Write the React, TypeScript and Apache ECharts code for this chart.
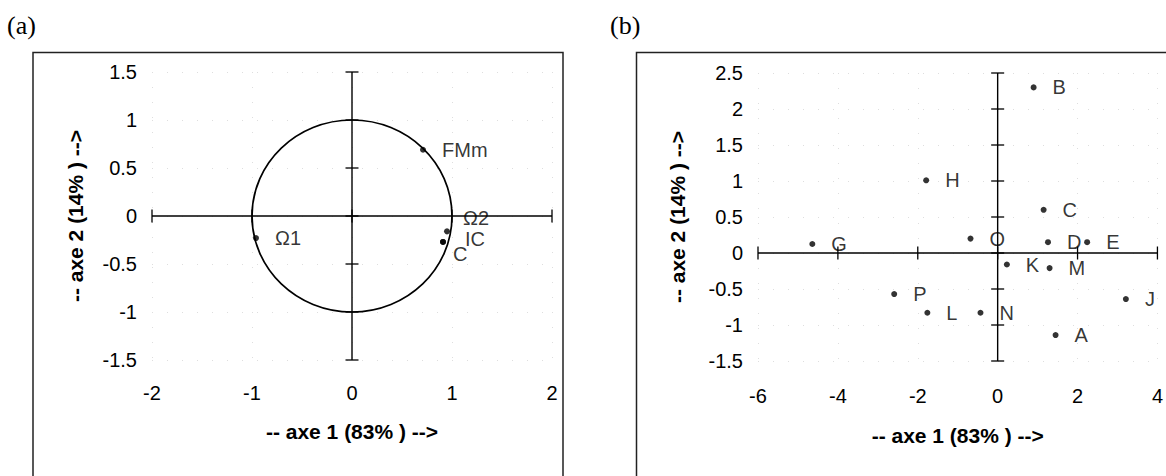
import React, { useEffect, useRef } from 'react';
import * as echarts from 'echarts';

// ---- Panel (a): correlation circle ----
const aTickX = [-2, -1, 0, 1, 2];
const aTickY = [-1.5, -1, -0.5, 0, 0.5, 1, 1.5];
const aNames = ['FMm', 'Ω1', 'Ω2', 'IC', 'C'];
const aX = [0.71, -0.96, 0.95, 0.91, 0.91];
const aY = [0.69, -0.23, -0.16, -0.27, -0.27];
const circleRadius = [1];

// ---- Panel (b): individuals ----
const bTickX = [-6, -4, -2, 0, 2, 4];
const bTickY = [-1.5, -1, -0.5, 0, 0.5, 1, 1.5, 2, 2.5];
const bNames = ['B', 'H', 'C', 'G', 'O', 'D', 'E', 'K', 'M', 'P', 'L', 'N', 'A', 'J'];
const bX = [0.9, -1.79, 1.15, -4.64, -0.68, 1.26, 2.24, 0.23, 1.3, -2.59, -1.76, -0.43, 1.45, 3.21];
const bY = [2.3, 1.01, 0.6, 0.125, 0.2, 0.15, 0.15, -0.16, -0.21, -0.57, -0.83, -0.83, -1.14, -0.64];

const xTitle = '-- axe 1 (83% ) -->';
const yTitle = '-- axe 2 (14% ) -->';

const FONT = '"Liberation Sans", Arial, sans-serif';
const SERIF = '"Liberation Serif", "Times New Roman", serif';
const INK = '#000';

const aLabelStyle: Record<string, any> = {
  'Ω2': { distance: 13, offset: [0, -13], lineHeight: 15 },
  'IC': { distance: 19, offset: [0, -3], lineHeight: 15 },
  'C': { distance: 7, offset: [0, 12], lineHeight: 15 },
};

function mkXAxis(grid: number, ticks: number[], name: string, nameGap: number, margin: number) {
  return {
    type: 'value', gridIndex: grid, min: ticks[0], max: ticks[ticks.length - 1],
    interval: ticks[1] - ticks[0], position: 'bottom',
    axisLine: { show: false, onZero: false }, axisTick: { show: false },
    axisLabel: { fontSize: 20, color: INK, margin, fontFamily: FONT, showMinLabel: true, showMaxLabel: true },
    splitLine: { show: true, lineStyle: { color: '#dedede', type: [1, 14], width: 1 } },
    name, nameLocation: 'middle', nameGap,
    nameTextStyle: { fontSize: 21, fontWeight: 'bold', color: INK, fontFamily: FONT },
  };
}
function mkYAxis(grid: number, ticks: number[], name: string, nameGap: number) {
  return {
    type: 'value', gridIndex: grid, min: ticks[0], max: ticks[ticks.length - 1],
    interval: ticks[1] - ticks[0], position: 'left',
    axisLine: { show: false, onZero: false }, axisTick: { show: false },
    axisLabel: { fontSize: 20, color: INK, margin: 15, fontFamily: FONT, showMinLabel: true, showMaxLabel: true },
    splitLine: { show: true, lineStyle: { color: '#dedede', type: [1, 14], width: 1 } },
    name, nameLocation: 'middle', nameGap,
    nameTextStyle: { fontSize: 21, fontWeight: 'bold', color: INK, fontFamily: FONT },
  };
}

function axisSeries(grid: number, tx: number[], ty: number[]) {
  const lineStyle = { color: '#000', width: 1.4 };
  const tick = (vertical: boolean) => (params: any, api: any) => {
    const p = api.coord([api.value(0), api.value(1)]);
    const h = 6.5;
    return {
      type: 'line',
      shape: vertical
        ? { x1: p[0], y1: p[1] - h, x2: p[0], y2: p[1] + h }
        : { x1: p[0] - h, y1: p[1], x2: p[0] + h, y2: p[1] },
      style: { stroke: '#000', lineWidth: 1.3 },
    };
  };
  return [
    { type: 'line', xAxisIndex: grid, yAxisIndex: grid, data: [[tx[0], 0], [tx[tx.length - 1], 0]], symbol: 'none', lineStyle, silent: true, z: 2 },
    { type: 'line', xAxisIndex: grid, yAxisIndex: grid, data: [[0, ty[0]], [0, ty[ty.length - 1]]], symbol: 'none', lineStyle, silent: true, z: 2 },
    { type: 'custom', xAxisIndex: grid, yAxisIndex: grid, data: tx.map((v) => [v, 0]), renderItem: tick(true), silent: true, z: 2 },
    { type: 'custom', xAxisIndex: grid, yAxisIndex: grid, data: ty.map((v) => [0, v]), renderItem: tick(false), silent: true, z: 2 },
  ];
}

function pointSeries(grid: number, names: string[], xs: number[], ys: number[], special: Record<string, any>) {
  return {
    type: 'scatter', xAxisIndex: grid, yAxisIndex: grid, symbol: 'circle', symbolSize: 6,
    itemStyle: { color: '#000' }, z: 5,
    label: { show: true, position: 'right', distance: 16, fontSize: 20, color: INK, fontFamily: FONT, formatter: (p: any) => p.name },
    data: names.map((n, i) => {
      const d: any = { name: n, value: [xs[i], ys[i]] };
      if (special[n]) d.label = { ...special[n] };
      return d;
    }),
  };
}

export default function App() {
  const ref = useRef<HTMLDivElement>(null);
  useEffect(() => {
    if (!ref.current) return;
    const chart = echarts.init(ref.current, null, { renderer: 'svg' });
    const option: any = {
      animation: false,
      backgroundColor: '#fff',
      grid: [
        { left: 152, top: 72, width: 400, height: 288 },
        { left: 758, top: 73, width: 405, height: 288 },
      ],
      xAxis: [mkXAxis(0, aTickX, xTitle, 61, 23), mkXAxis(1, bTickX, xTitle, 64, 25)],
      yAxis: [mkYAxis(0, aTickY, yTitle, 66), mkYAxis(1, bTickY, yTitle, 70)],
      graphic: [
        { type: 'rect', shape: { x: 33, y: 52.5, width: 530, height: 500 }, style: { fill: 'none', stroke: '#222', lineWidth: 1.5 }, silent: true },
        { type: 'rect', shape: { x: 636.5, y: 52.5, width: 600, height: 500 }, style: { fill: 'none', stroke: '#222', lineWidth: 1.5 }, silent: true },
        { type: 'text', left: 7, top: 12, style: { text: '(a)', fontSize: 26, fontFamily: SERIF, fill: '#000' } },
        { type: 'text', left: 610, top: 12, style: { text: '(b)', fontSize: 26, fontFamily: SERIF, fill: '#000' } },
      ],
      series: [
        ...axisSeries(0, aTickX, aTickY),
        {
          type: 'custom', xAxisIndex: 0, yAxisIndex: 0, silent: true, z: 3,
          data: circleRadius.map((r) => [0, 0, r]),
          renderItem: (params: any, api: any) => {
            const c = api.coord([api.value(0), api.value(1)]);
            const s = api.size([api.value(2), api.value(2)]);
            return {
              type: 'ellipse',
              shape: { cx: c[0], cy: c[1], rx: s[0], ry: s[1] },
              style: { fill: 'none', stroke: '#000', lineWidth: 1.7 },
            };
          },
        },
        pointSeries(0, aNames, aX, aY, aLabelStyle),
        ...axisSeries(1, bTickX, bTickY),
        pointSeries(1, bNames, bX, bY, {}),
      ],
    };
    chart.setOption(option);
    return () => chart.dispose();
  }, []);
  return (
    <div
      ref={ref}
      style={{ position: 'fixed', left: 0, top: 0, width: 1166, height: 476, background: '#fff' }}
    />
  );
}
